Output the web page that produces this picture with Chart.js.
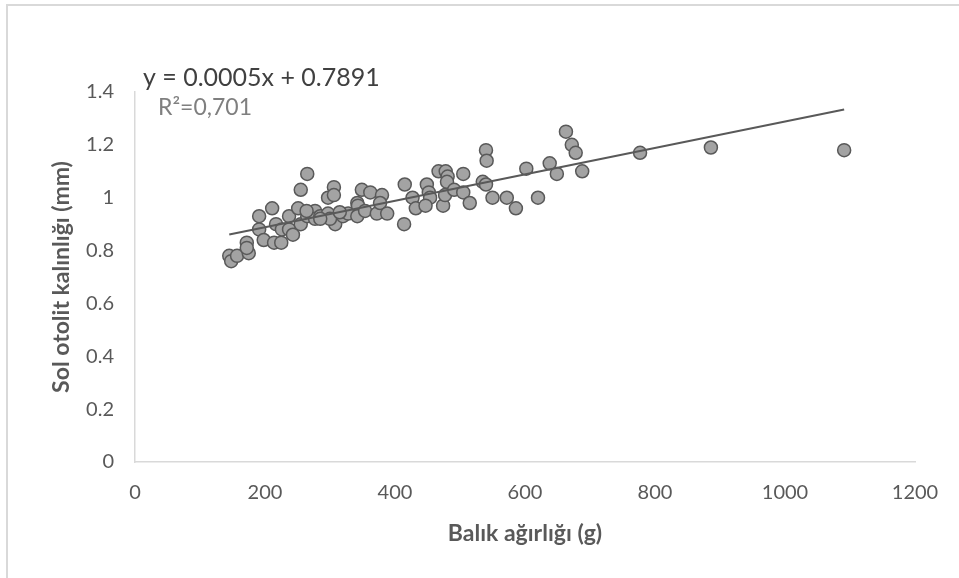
<!DOCTYPE html>
<html>
<head>
<meta charset="utf-8">
<script src="https://cdn.jsdelivr.net/npm/chart.js@4.4.1/dist/chart.umd.min.js"></script>
<style>
  html, body { margin: 0; padding: 0; background: #fff; }
  #wrap { width: 959px; height: 578px; position: relative; }
</style>
</head>
<body>
<div id="wrap"><canvas id="mycanvas" width="959" height="578"></canvas></div>
<script>
// fish weight (g) and left otolith thickness (mm)
var weight = [145, 148, 157, 175, 172, 172, 191, 191, 198, 211,
              214, 225, 217, 226, 237, 237, 243, 251, 255, 265,
              255, 265, 277, 277, 285, 297, 297, 306, 306, 308,
              300, 320, 328, 342, 343, 349, 362, 342, 354, 372,
              380, 377, 388, 415, 414, 427, 432, 449, 452, 454,
              447, 467, 478, 481, 480, 474, 477, 491, 505, 505,
              515, 535, 540, 540, 541, 550, 572, 586, 602, 620,
              638, 649, 663, 672, 678, 688, 777, 886, 1091, 264,
              315, 285];
var thickness = [0.78, 0.76, 0.78, 0.79, 0.83, 0.81, 0.93, 0.88, 0.84, 0.96,
                 0.83, 0.83, 0.90, 0.88, 0.93, 0.88, 0.86, 0.96, 1.03, 1.09,
                 0.90, 0.93, 0.95, 0.92, 0.93, 0.94, 1.00, 1.04, 1.01, 0.90,
                 0.92, 0.93, 0.94, 0.98, 0.97, 1.03, 1.02, 0.93, 0.95, 0.94,
                 1.01, 0.98, 0.94, 1.05, 0.90, 1.00, 0.96, 1.05, 1.02, 1.00,
                 0.97, 1.10, 1.10, 1.08, 1.06, 0.97, 1.01, 1.03, 1.09, 1.02,
                 0.98, 1.06, 1.05, 1.18, 1.14, 1.00, 1.00, 0.96, 1.11, 1.00,
                 1.13, 1.09, 1.25, 1.20, 1.17, 1.10, 1.17, 1.19, 1.18, 0.95,
                 0.945, 0.92];

// trend line end points as drawn
var trendX = [145, 1091];
var trendY = [0.861, 1.334];

var equationText = "y = 0.0005x + 0.7891";
var r2Text = "R\u00b2=0,701";

var xTitle = "Bal\u0131k a\u011f\u0131rl\u0131\u011f\u0131 (g)";
var yTitle = "Sol otolit kal\u0131nl\u0131\u011f\u0131 (mm)";

var scatterPoints = [];
for (var i in weight) {
    scatterPoints.push({x: weight[i], y: thickness[i]});
}
var trendPoints = [];
for (var j in trendX) {
    trendPoints.push({x: trendX[j], y: trendY[j]});
}

Chart.defaults.font.family = "Lato";
Chart.defaults.color = "#595959";

var extras = {
    id: "extras",
    beforeDraw: function(chart) {
        var c = chart.ctx;
        c.save();
        c.fillStyle = "#fff";
        c.fillRect(0, 0, chart.width, chart.height);
        c.strokeStyle = "#d9d9d9";
        c.lineWidth = 2;
        c.beginPath();
        c.moveTo(7, 578);
        c.lineTo(7, 5);
        c.lineTo(959, 5);
        c.stroke();
        c.restore();
    },
    afterDraw: function(chart) {
        var c = chart.ctx;
        c.save();
        c.textBaseline = "middle";
        c.textAlign = "left";
        c.font = "25px Lato";
        c.fillStyle = "#404040";
        c.fillText(equationText, 143, 78);
        c.font = "23px Lato";
        c.fillStyle = "#7f7f7f";
        c.fillText(r2Text, 158, 108);
        c.restore();
    }
};

var ctx = document.getElementById("mycanvas");

var chartdata = {
    datasets: [
        {
            type: "line",
            label: "trend",
            data: trendPoints,
            borderColor: "#595959",
            borderWidth: 2,
            pointRadius: 0,
            fill: false,
            order: 0
        },
        {
            type: "scatter",
            label: "otolit",
            data: scatterPoints,
            backgroundColor: "#a3a3a3",
            borderColor: "#595959",
            borderWidth: 1.5,
            pointRadius: 6.5,
            order: 1
        }
    ]
};

var ScatterGraph = new Chart(ctx, {
    type: "scatter",
    data: chartdata,
    plugins: [extras],
    options: {
        responsive: false,
        animation: false,
        layout: { padding: { left: 0, top: 92, right: 44, bottom: 0 } },
        plugins: {
            legend: { display: false },
            tooltip: { enabled: false }
        },
        scales: {
            x: {
                type: "linear",
                min: 0,
                max: 1200,
                afterFit: function(scale) { scale.height = 116; },
                ticks: {
                    stepSize: 200, padding: 19, font: { size: 20 }, color: "#595959",
                    callback: function(v) { return String(v); }
                },
                grid: { display: false, drawTicks: false },
                border: { color: "#d9d9d9", width: 1.5 },
                title: {
                    display: true,
                    text: xTitle,
                    font: { size: 23, weight: "bold" },
                    color: "#595959",
                    padding: { top: 0, bottom: 31 }
                }
            },
            y: {
                type: "linear",
                min: 0,
                max: 1.4,
                afterFit: function(scale) { scale.width = 135; },
                ticks: {
                    stepSize: 0.2, padding: 21, font: { size: 20 }, color: "#595959",
                    callback: function(v) { return String(Number(v.toFixed(1))); }
                },
                grid: { display: false, drawTicks: false },
                border: { color: "#d9d9d9", width: 1.5 },
                title: {
                    display: true,
                    text: yTitle,
                    font: { size: 23, weight: "bold" },
                    color: "#595959",
                    padding: { top: 48, bottom: 0 }
                }
            }
        }
    }
});
</script>
</body>
</html>
